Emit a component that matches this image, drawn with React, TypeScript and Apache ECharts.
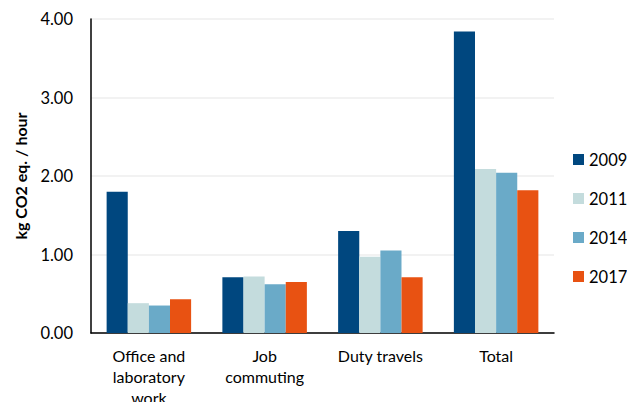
import React, { useEffect, useRef } from "react";
import * as echarts from "echarts";

const categories = ["Office and\nlaboratory\nwork", "Job\ncommuting", "Duty travels", "Total"];
const years = ["2009", "2011", "2014", "2017"];
const values2009 = [1.8, 0.71, 1.3, 3.84];
const values2011 = [0.38, 0.72, 0.97, 2.09];
const values2014 = [0.35, 0.62, 1.05, 2.04];
const values2017 = [0.43, 0.65, 0.71, 1.82];
const colors = ["#00477F", "#C4DCDD", "#6AAAC8", "#E85212"];

export default function App() {
  const ref = useRef<HTMLDivElement>(null);
  useEffect(() => {
    if (!ref.current) return;
    const chart = echarts.init(ref.current, undefined, { renderer: "svg" });
    const font = "Lato, 'Open Sans', sans-serif";
    const all = [values2009, values2011, values2014, values2017];
    chart.setOption({
      animation: false,
      textStyle: { fontFamily: font },
      grid: { left: 91, top: 19, right: 81, bottom: 77, outerBoundsMode: "none", containLabel: false },
      legend: {
        orient: "vertical",
        left: 568,
        top: 146,
        itemWidth: 11,
        itemHeight: 11,
        itemGap: 22,
        icon: "rect",
        textStyle: { fontSize: 16.5, color: "#000", fontFamily: font },
        data: years,
      },
      xAxis: {
        type: "category",
        data: categories,
        axisTick: { show: false },
        axisLine: { lineStyle: { color: "#000", width: 1.5 } },
        axisLabel: { color: "#000", fontSize: 16, lineHeight: 21, margin: 12, interval: 0, fontFamily: font },
      },
      yAxis: {
        type: "value",
        min: 0,
        max: 4,
        interval: 1,
        name: "kg CO2 eq. / hour",
        nameLocation: "middle",
        nameGap: 63,
        nameTextStyle: { fontSize: 16, fontWeight: "bold", color: "#000", fontFamily: font },
        axisLine: { show: true, lineStyle: { color: "#000", width: 1.5 } },
        axisTick: { show: false },
        splitLine: { lineStyle: { color: "#EEEEEE", width: 1.5 } },
        axisLabel: { color: "#000", fontSize: 16.5, margin: 18, formatter: (v: number) => v.toFixed(2), fontFamily: font },
      },
      series: years.map((y, i) => ({
        name: y,
        type: "bar",
        data: all[i],
        itemStyle: { color: colors[i] },
        barGap: "0%",
        barCategoryGap: "27%",
      })),
    });
    return () => chart.dispose();
  }, []);
  return <div ref={ref} style={{ width: 635, height: 410, margin: -8 }} />;
}
